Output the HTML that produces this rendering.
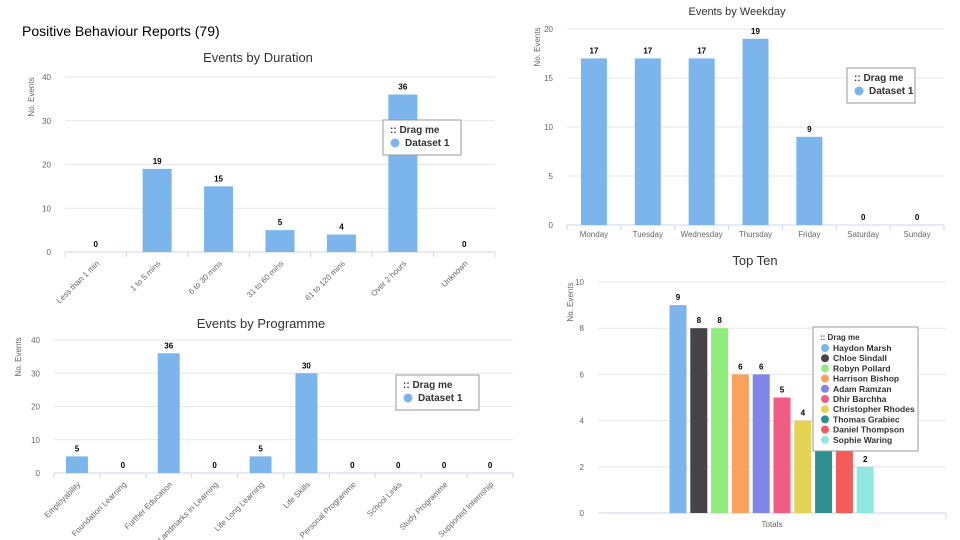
<!DOCTYPE html>
<html><head><meta charset="utf-8"><style>
body{margin:0;background:#fff;width:960px;height:540px;overflow:hidden;font-family:"Liberation Sans",sans-serif}
svg{position:absolute;left:0;top:0}
</style></head><body>
<svg id="s" width="960" height="540">
<text x="22" y="36" font-size="14" fill="#000">Positive Behaviour Reports (79)</text>
</svg>
<script>
const durCats=["Less than 1 min","1 to 5 mins","6 to 30 mins","31 to 60 mins","61 to 120 mins","Over 2 hours","Unknown"];
const durVals=[0,19,15,5,4,36,0];
const durTicks=[0,10,20,30,40];
const dayCats=["Monday","Tuesday","Wednesday","Thursday","Friday","Saturday","Sunday"];
const dayVals=[17,17,17,19,9,0,0];
const dayTicks=[0,5,10,15,20];
const progCats=["Employability","Foundation Learning","Further Education","Landmarks in Learning","Life Long Learning","Life Skills","Personal Programme","School Links","Study Programme","Supported Internship"];
const progVals=[5,0,36,0,5,30,0,0,0,0];
const progTicks=[0,10,20,30,40];
const topNames=["Haydon Marsh","Chloe Sindall","Robyn Pollard","Harrison Bishop","Adam Ramzan","Dhir Barchha","Christopher Rhodes","Thomas Grabiec","Daniel Thompson","Sophie Waring"];
const topVals=[9,8,8,6,6,5,4,3,3,2];
const topTicks=[0,2,4,6,8,10];
const topColors=["#7cb5ec","#434348","#90ed7d","#f7a35c","#8085e9","#f15c80","#e4d354","#2b908f","#f45b5b","#91e8e1"];

const NS="http://www.w3.org/2000/svg",S=document.getElementById('s');
function el(t,a,p,txt){const e=document.createElementNS(NS,t);for(const k in a)e.setAttribute(k,a[k]);if(txt!==undefined)e.textContent=txt;(p||S).appendChild(e);return e;}
function legend(g,x,y,w,names,colors){
  const h=22+names.length*(names.length>1?10.2:13);
  const b=el('rect',{x:x,y:y,width:w,height:h,fill:'#fff',stroke:'#999','stroke-width':1},g);
  
  const t=el('text',{x:x+7,y:y+13,'font-size':names.length>1?8:10,'font-weight':'bold',fill:'#333'},g,':: Drag me');
  
  names.forEach((n,i)=>{const yy=y+(names.length>1?24+i*10.2:26);
    const gg=el('g',{},g);
    el('circle',{cx:x+12,cy:yy-3,r:names.length>1?4:4.5,fill:colors[i]},gg);
    el('text',{x:x+(names.length>1?20:22),y:yy,'font-size':names.length>1?8.5:10,'font-weight':'bold',fill:'#333'},gg,n);});
}
function chart(o){
  const g=el('g',{});
  const max=o.ticks[o.ticks.length-1];
  const y=v=>o.y0-(o.y0-o.yTop)*v/max;
  const tt=el('text',{x:o.tx,y:o.ty,'text-anchor':'middle','font-size':o.tfs,fill:'#333'},g,o.title);
  
  o.ticks.forEach(t=>{
    el('line',{x1:o.x0,x2:o.x1,y1:y(t),y2:y(t),stroke:t?'#e6e6e6':'#ccd6eb'},g);
    const l=el('text',{x:o.x0-14,y:y(t)+3,'text-anchor':'end','font-size':8,fill:'#666'},g,t);
    
  });
  const yl=el('text',{transform:`translate(${o.ylx},${o.yly}) rotate(-90)`,'text-anchor':'middle','font-size':8,fill:'#666'},g,'No. Events');
  
  const n=o.cats.length,bw=(o.x1-o.x0)/n;
  if(!o.single){for(let i=0;i<=n;i++)el('line',{x1:o.x0+i*bw,x2:o.x0+i*bw,y1:o.y0,y2:o.y0+5,stroke:'#ccd6eb'},g);}
  o.vals.forEach((v,i)=>{
    let cx,w=o.barW;
    if(o.single){cx=o.bx+i*o.step;}else cx=o.x0+(i+.5)*bw;
    const r=el('rect',{x:cx-w/2,y:y(v),width:w,height:o.y0-y(v),fill:o.colors?o.colors[i]:'#7cb5ec'},g);
    
    
    const vl=el('text',{x:cx,y:y(v)-5,'text-anchor':'middle','font-size':8,'font-weight':'bold',fill:'#000'},g,v);
    
  });
  if(o.single){const c=el('text',{x:(o.x0+o.x1)/2,y:o.y0+14,'text-anchor':'middle','font-size':8,fill:'#666'},g,'Totals');
    
    el('line',{x1:o.x1,x2:o.x1,y1:o.y0,y2:o.y0+6,stroke:'#ccd6eb'},g);}
  else o.cats.forEach((c,i)=>{const cx=o.x0+(i+.5)*bw;
    const a=o.rot?{transform:`translate(${cx+4},${o.y0+12}) rotate(-45)`,'text-anchor':'end'}:{x:cx,y:o.y0+12,'text-anchor':'middle'};
    a['font-size']=8;a.fill='#666';
    const t=el('text',a,g,c);});
  legend(g,o.lx,o.ly,o.lw,o.names||['Dataset 1'],o.colors||['#7cb5ec']);
}
chart({name:'duration-chart',title:'Events by Duration',tx:258,ty:62,tfs:13,cats:durCats,vals:durVals,ticks:durTicks,x0:65,x1:495,y0:252,yTop:77,barW:29,ylx:34,yly:97,rot:true,lx:383,ly:120,lw:78});
chart({name:'weekday-chart',title:'Events by Weekday',tx:737,ty:15,tfs:11,cats:dayCats,vals:dayVals,ticks:dayTicks,x0:567,x1:944,y0:225,yTop:29,barW:26,ylx:540,yly:47,rot:false,lx:847,ly:68,lw:68});
chart({name:'programme-chart',title:'Events by Programme',tx:261,ty:328,tfs:13,cats:progCats,vals:progVals,ticks:progTicks,x0:54,x1:513,y0:473,yTop:340,barW:22,ylx:21,yly:357,rot:true,lx:396,ly:375,lw:83});
chart({name:'top-ten-chart',title:'Top Ten',tx:755,ty:265,tfs:13,cats:['Totals'],names:topNames,vals:topVals,ticks:topTicks,colors:topColors,x0:598,x1:946,y0:513,yTop:282,barW:17,single:true,bx:678,step:20.8,ylx:573,yly:302,lx:813,ly:327,lw:105});
</script>
</body></html>
